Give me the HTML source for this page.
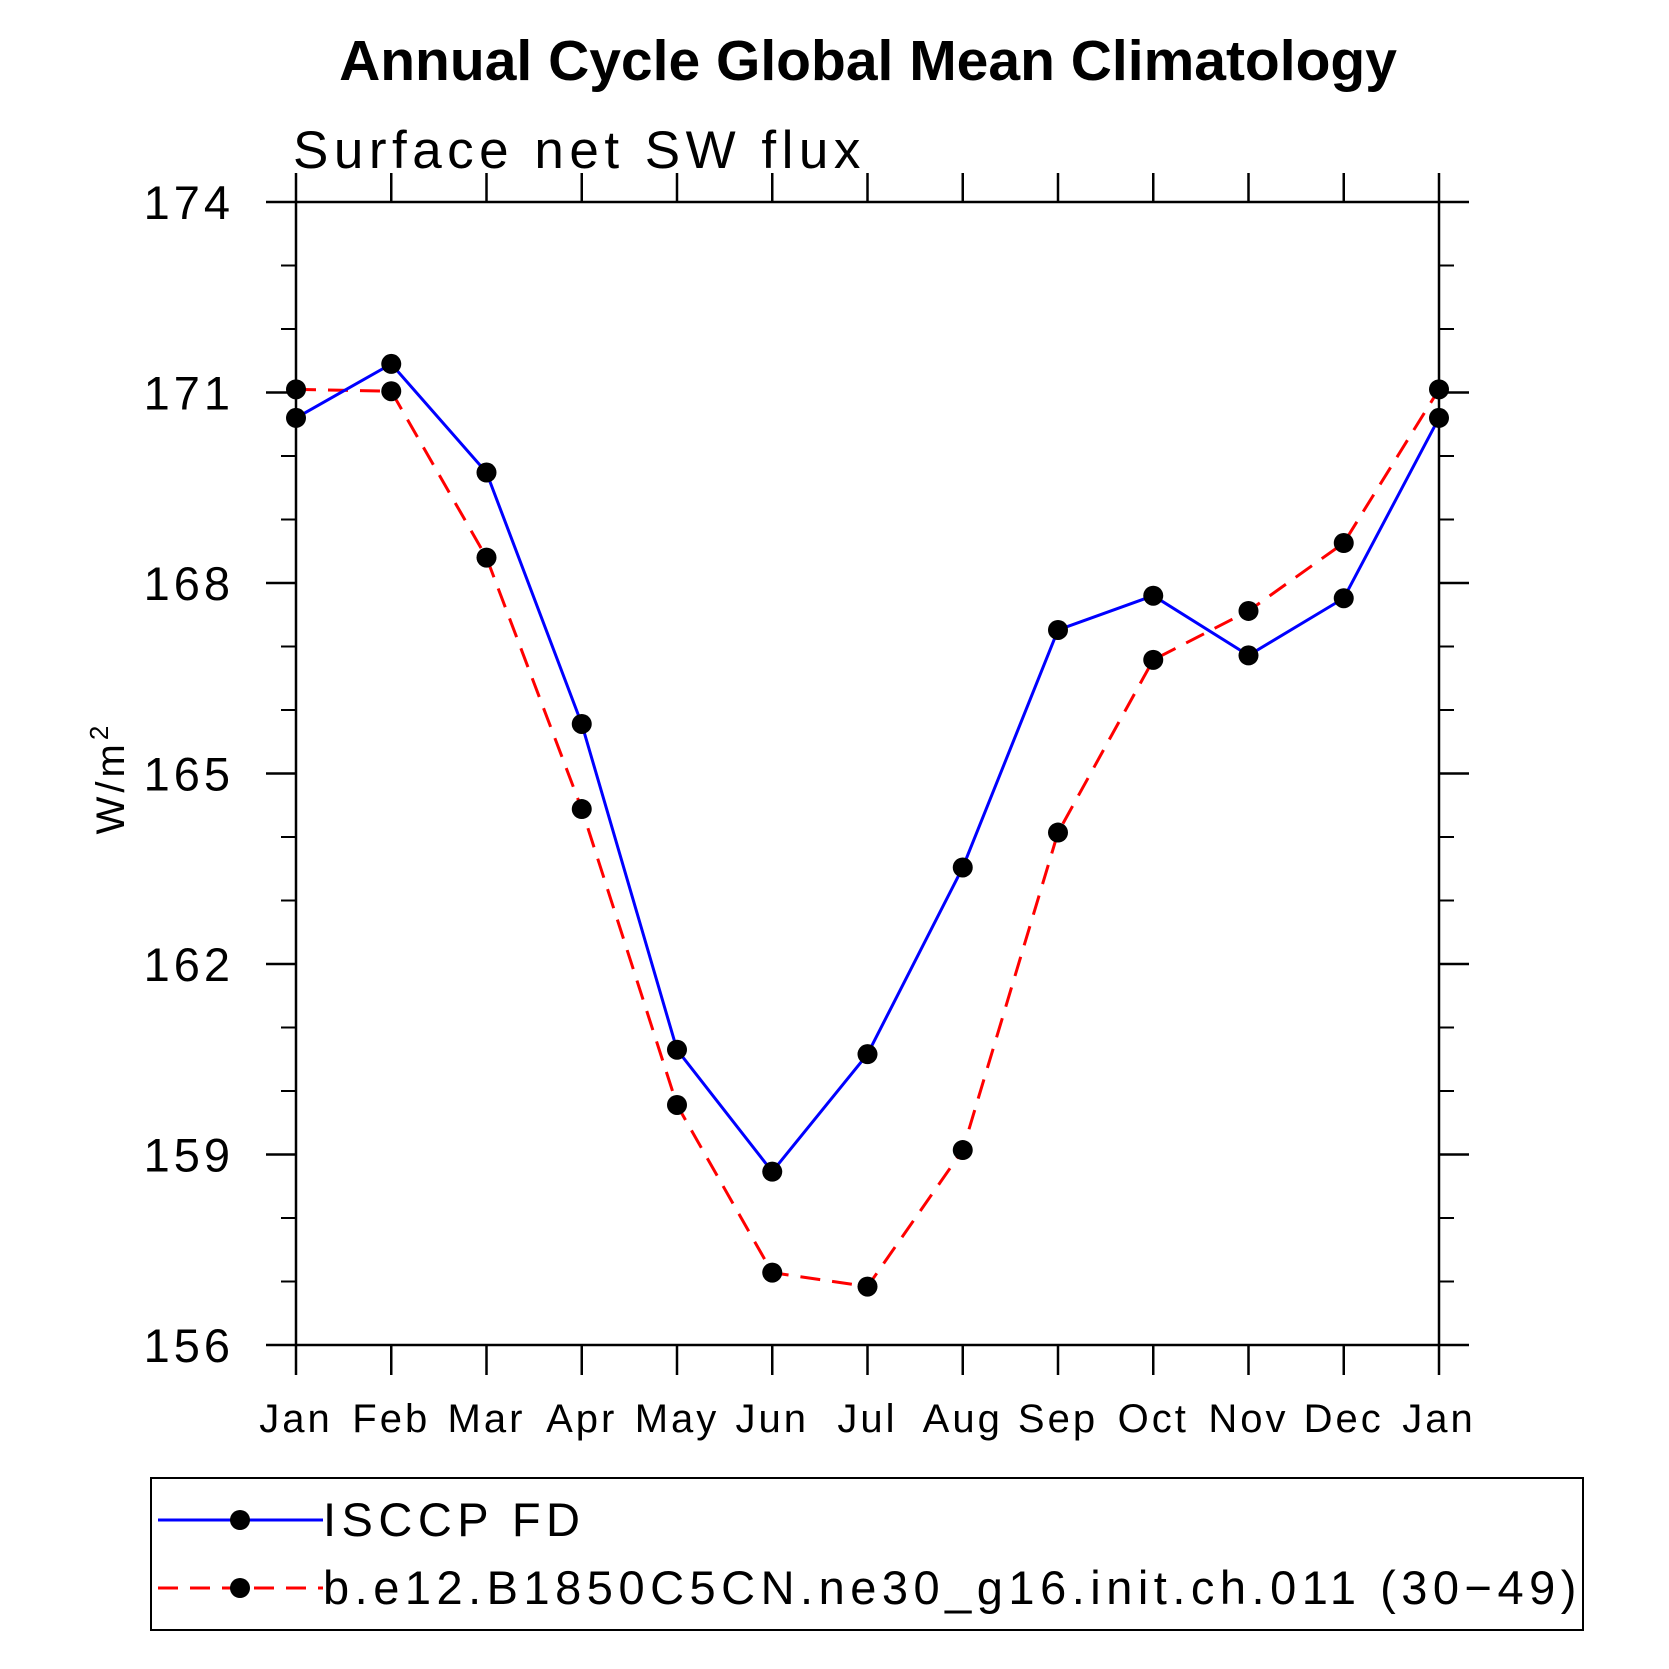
<!DOCTYPE html>
<html><head><meta charset="utf-8"><style>
html,body{margin:0;padding:0;background:#fff}
svg{display:block}
text{font-family:"Liberation Sans",sans-serif}
</style></head><body>
<svg id="chart" width="1669" height="1669" viewBox="0 0 1669 1669">
<text x="868" y="80" text-anchor="middle" font-size="57" font-weight="bold">Annual Cycle Global Mean Climatology</text>
<text x="293" y="168" font-size="53" letter-spacing="5.5">Surface net SW flux</text>
<text transform="translate(124,778) rotate(-90)" text-anchor="middle" font-size="40" letter-spacing="4">W/m<tspan dy="-16" font-size="26">2</tspan></text>
<g id="axes"></g>
<g id="series"></g>
<rect x="151" y="1478" width="1432" height="152" fill="none" stroke="#000" stroke-width="2"/>
<g>
<line x1="158" y1="1520" x2="323" y2="1520" stroke="#00f" stroke-width="3"/>
<circle cx="240" cy="1520" r="10" fill="#000"/>
<text x="323" y="1536" font-size="47" letter-spacing="5.5">ISCCP FD</text>
</g>
<g>
<line x1="158" y1="1588" x2="323" y2="1588" stroke="#f00" stroke-width="3" stroke-dasharray="20,12"/>
<circle cx="240" cy="1588" r="10" fill="#000"/>
<text x="323" y="1604" font-size="47" letter-spacing="5.5">b.e12.B1850C5CN.ne30_g16.init.ch.011 (30−49)</text>
</g>
</svg>
<script>
const months = ["Jan","Feb","Mar","Apr","May","Jun","Jul","Aug","Sep","Oct","Nov","Dec","Jan"];
const isccpValues = [170.6,171.45,169.74,165.78,160.65,158.73,160.58,163.52,167.26,167.8,166.86,167.76,170.6];
const modelValues = [171.05,171.02,168.4,164.44,159.78,157.14,156.92,159.07,164.07,166.79,167.56,168.63,171.05];
const yTickLabels = ["156","159","162","165","168","171","174"];
const yTickValues = [156,159,162,165,168,171,174];

const L=296,R=1439,T=202,B=1345,yMin=156,yMax=174;
const xs=i=>L+(R-L)*i/(months.length-1);
const ys=v=>B-(B-T)*(v-yMin)/(yMax-yMin);
const NS="http://www.w3.org/2000/svg";
const axes=document.getElementById('axes'), series=document.getElementById('series');
function mk(tag,attrs,parent){const e=document.createElementNS(NS,tag);for(const k in attrs)e.setAttribute(k,attrs[k]);parent.appendChild(e);return e;}

const frame=mk('rect',{x:L,y:T,width:R-L,height:B-T,fill:'none',stroke:'#000','stroke-width':2.5},axes);



months.forEach((m,i)=>{
  const x=xs(i);
  mk('line',{x1:x,y1:B,x2:x,y2:B+30,stroke:'#000','stroke-width':2.5},axes);
  mk('line',{x1:x,y1:T,x2:x,y2:T-29,stroke:'#000','stroke-width':2.5},axes);
  const t=mk('text',{x:x,y:1432,'text-anchor':'middle','font-size':40,'letter-spacing':3},axes);
  t.textContent=m;
  
  
});
yTickValues.forEach((v,i)=>{
  const y=ys(v);
  mk('line',{x1:L-30,y1:y,x2:L,y2:y,stroke:'#000','stroke-width':2.5},axes);
  mk('line',{x1:R,y1:y,x2:R+30,y2:y,stroke:'#000','stroke-width':2.5},axes);
  const t=mk('text',{x:234,y:y+17,'text-anchor':'end','font-size':47,'letter-spacing':4},axes);
  t.textContent=yTickLabels[i];
  
  
  if(i<yTickValues.length-1){
    for(let k=1;k<3;k++){
      const yy=ys(v+k);
      mk('line',{x1:L-15,y1:yy,x2:L,y2:yy,stroke:'#000','stroke-width':2},axes);
      mk('line',{x1:R,y1:yy,x2:R+15,y2:yy,stroke:'#000','stroke-width':2},axes);
    }
  }
});

function drawSeries(vals,color,dash,name){
  const pts=vals.map((v,i)=>xs(i)+','+ys(v)).join(' ');
  const pl=mk('polyline',{points:pts,fill:'none',stroke:color,'stroke-width':3,'stroke-dasharray':dash},series);
  
  
  vals.forEach((v,i)=>{
    const c=mk('circle',{cx:xs(i),cy:ys(v),r:10,fill:'#000'},series);
    
    
  });
}
drawSeries(modelValues,'#f00','20,12','model');
drawSeries(isccpValues,'#00f','none','isccp');
</script>
</body></html>
